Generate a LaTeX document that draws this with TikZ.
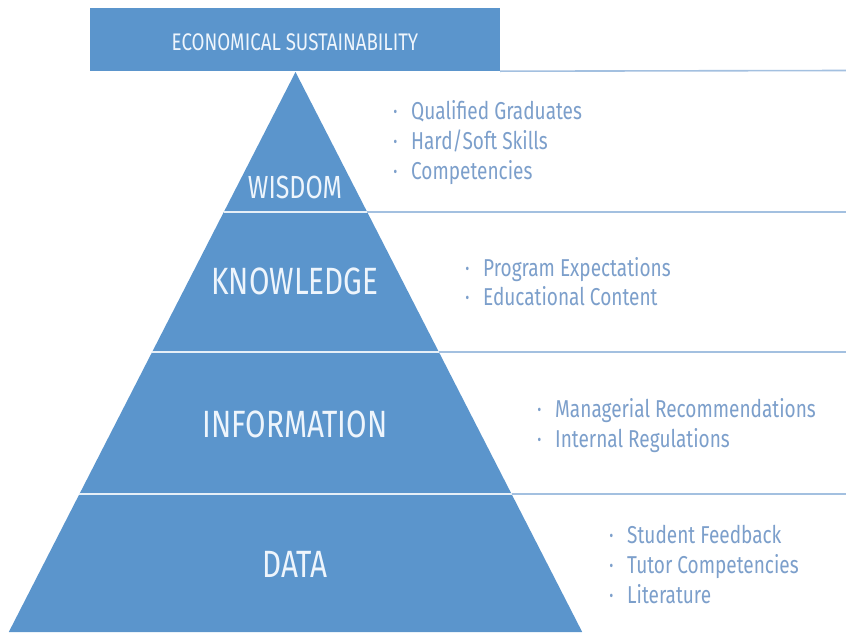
\documentclass[tikz,border=0pt]{standalone}
\usepackage{fontspec}
\setmainfont{Fira Sans}[FakeStretch=0.78]
\definecolor{pyr}{HTML}{5B95CC}
\definecolor{bul}{HTML}{7C9FCB}
\definecolor{sep}{HTML}{A3C0E0}
\definecolor{lbl}{HTML}{EEF5FC}
\tikzset{
  layerlabel/.style={anchor=base, text=lbl, inner sep=0pt},
  item/.style={anchor=base west, text=bul, inner sep=0pt, font=\fontsize{24.4}{24.4}\selectfont},
  rightline/.style={draw=sep, line width=1.6pt},
  innerline/.style={draw=white!85!pyr, line width=2pt},
}
\newcommand{\itm}[1]{\makebox[18pt][l]{\textperiodcentered}#1}
\begin{document}
\begin{tikzpicture}[x=1pt,y=-1pt]
\useasboundingbox (0,0) rectangle (846,632);
\fill[white] (0,0) rectangle (846,632);
% pyramid coordinates
\coordinate (apex) at (295.5,72);
\coordinate (l1) at (223.8,212); \coordinate (r1) at (367.2,212);
\coordinate (l2) at (152.1,352); \coordinate (r2) at (438.9,352);
\coordinate (l3) at (79.4,494);  \coordinate (r3) at (511.6,494);
\coordinate (l4) at (8.8,632);   \coordinate (r4) at (582.2,632);
\coordinate (e0) at (846,70.5);
\coordinate (e1) at (846,212);
\coordinate (e2) at (846,352);
\coordinate (e3) at (846,494);
% pyramid
\fill[pyr] (apex) -- (r4) -- (l4) -- cycle;
% top box
\node[fill=pyr, minimum width=410pt, minimum height=63pt, inner sep=0pt] (top) at (295,39.5) {};
\node[layerlabel, font=\fontsize{24}{24}\selectfont] (toplbl) at (295,50) {ECONOMICAL SUSTAINABILITY};
% separators
\draw[rightline] (top.south east) -- (e0);
\draw[innerline] (l1) -- (r1); \draw[rightline] (r1) -- (e1);
\draw[innerline] (l2) -- (r2); \draw[rightline] (r2) -- (e2);
\draw[innerline] (l3) -- (r3); \draw[rightline] (r3) -- (e3);
% layer labels
\node[layerlabel, font=\fontsize{32}{32}\selectfont] (wis) at (295,198) {WISDOM};
\node[layerlabel, font=\fontsize{38}{38}\selectfont] (kno) at (295,294.5) {KNOWLEDGE};
\node[layerlabel, font=\fontsize{38}{38}\selectfont] (inf) at (295,437) {INFORMATION};
\node[layerlabel, font=\fontsize{38}{38}\selectfont] (dat) at (295,577) {DATA};
% items
\node[item] (w1) at (393,119) {\itm{Qualified Graduates}};
\node[item] (w2) at (393,149) {\itm{Hard/Soft Skills}};
\node[item] (w3) at (393,179) {\itm{Competencies}};
\node[item] (k1) at (465,276) {\itm{Program Expectations}};
\node[item] (k2) at (465,305) {\itm{Educational Content}};
\node[item] (i1) at (537,417) {\itm{Managerial Recommendations}};
\node[item] (i2) at (537,447) {\itm{Internal Regulations}};
\node[item] (d1) at (609,543) {\itm{Student Feedback}};
\node[item] (d2) at (609,573) {\itm{Tutor Competencies}};
\node[item] (d3) at (609,603) {\itm{Literature}};
\end{tikzpicture}
\end{document}
